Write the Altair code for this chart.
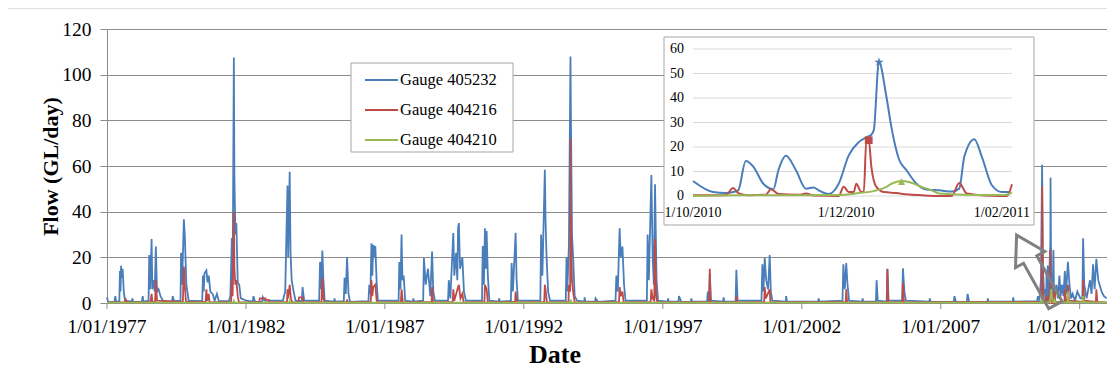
import altair as alt
import pandas as pd

FONT = "Liberation Serif"
GAUGES = ["Gauge 405232", "Gauge 404216", "Gauge 404210"]
COLORS = ["#4a7ebb", "#be4b48", "#98b954"]

# ---------------- inset (Oct 2010 - Feb 2011) ----------------
inset_blue = [("2010-10-01", 6.1), ("2010-10-09", 1.6), ("2010-10-14", 1.2), ("2010-10-17", 1.6),
              ("2010-10-19", 2.3), ("2010-10-22", 14.3), ("2010-10-25", 12), ("2010-10-29", 5),
              ("2010-11-02", 2.8), ("2010-11-04", 10.5), ("2010-11-07", 16.4), ("2010-11-11", 10.5),
              ("2010-11-15", 3), ("2010-11-18", 3.5), ("2010-11-20", 2.3), ("2010-11-24", 0.8),
              ("2010-11-28", 5), ("2010-12-02", 16.6), ("2010-12-06", 22), ("2010-12-10", 24.4),
              ("2010-12-11", 25), ("2010-12-12", 27), ("2010-12-14", 54.8), ("2010-12-17", 40.5),
              ("2010-12-19", 28), ("2010-12-22", 15), ("2010-12-25", 10.5), ("2010-12-29", 5),
              ("2011-01-02", 2.6), ("2011-01-07", 2.3), ("2011-01-12", 1.8), ("2011-01-15", 3),
              ("2011-01-17", 16), ("2011-01-21", 23.2), ("2011-01-24", 16), ("2011-01-28", 4.4),
              ("2011-02-01", 1.6), ("2011-02-04", 1.6)]
inset_red = [("2010-10-01", 0.3), ("2010-10-14", 0.3), ("2010-10-17", 3.3), ("2010-10-19", 1.2),
             ("2010-10-23", 0.3), ("2010-10-30", 0.5), ("2010-11-01", 2.8), ("2010-11-04", 0.8),
             ("2010-11-12", 0.5), ("2010-11-15", 1), ("2010-11-18", 0.2), ("2010-11-28", 0),
             ("2010-11-30", 3.8), ("2010-12-02", 1.6), ("2010-12-04", 1.6), ("2010-12-05", 5),
             ("2010-12-07", 1.6), ("2010-12-08", 1.6), ("2010-12-09", 22.8), ("2010-12-10", 22.8),
             ("2010-12-11", 12), ("2010-12-13", 3.7), ("2010-12-16", 1.6), ("2010-12-21", 1.2),
             ("2010-12-25", 0.7), ("2010-12-31", 0.3), ("2011-01-07", 0), ("2011-01-12", 0),
             ("2011-01-15", 5.3), ("2011-01-18", 1), ("2011-01-28", 0.1), ("2011-02-03", 0),
             ("2011-02-05", 4.8)]
inset_green = [("2010-10-01", 0), ("2010-10-19", 0.3), ("2010-11-02", 0.3), ("2010-11-15", 0.3),
               ("2010-11-28", 0.4), ("2010-12-06", 1.2), ("2010-12-12", 2), ("2010-12-17", 3.7),
               ("2010-12-19", 5), ("2010-12-23", 6.1), ("2010-12-26", 5.7), ("2010-12-31", 3.7),
               ("2011-01-04", 2.3), ("2011-01-07", 1), ("2011-01-20", 0.4), ("2011-02-02", 0.4),
               ("2011-02-05", 1.4)]
inset_peaks = [("2010-12-14", 54.8, "★", 12), ("2010-12-10", 22.8, "■", 10), ("2010-12-23", 6.1, "▲", 9)]
inset_yticks = [0, 10, 20, 30, 40, 50, 60]
inset_xticks = ["2010-10-01", "2010-12-01", "2011-02-01"]
inset_xlabels = ["1/10/2010", "1/12/2010", "1/02/2011"]

# ---------------- main axis ticks ----------------
main_xticks = ["1977-01-01", "1982-01-01", "1987-01-01", "1992-01-01", "1997-01-01", "2002-01-01",
               "2007-01-01", "2012-01-01"]
main_xlabels = ["1/01/1977", "1/01/1982", "1/01/1987", "1/01/1992", "1/01/1997", "1/01/2002",
                "1/01/2007", "1/01/2012"]
main_yticks = [0, 20, 40, 60, 80, 100, 120]

# ---------------- main daily-flow series ----------------
blue_a = [("1977-01-01", 2.5), ("1977-01-15", 0.5), ("1977-04-10", 0.6), ("1977-04-20", 3), ("1977-05-01", 0.5),
          ("1977-06-12", 0.8), ("1977-06-20", 14), ("1977-06-28", 5), ("1977-07-05", 16.3), ("1977-07-15", 11),
          ("1977-07-25", 15), ("1977-08-10", 5), ("1977-08-25", 1), ("1977-11-20", 0.6), ("1977-12-01", 2),
          ("1977-12-10", 0.5), ("1978-04-05", 0.6), ("1978-04-15", 3), ("1978-04-25", 0.6),
          ("1978-07-01", 1), ("1978-07-10", 21), ("1978-07-22", 6), ("1978-08-10", 28), ("1978-08-20", 6),
          ("1978-09-10", 10), ("1978-09-20", 5), ("1978-10-05", 24.7), ("1978-10-20", 5), ("1978-11-10", 6),
          ("1978-12-05", 3), ("1979-01-10", 0.8), ("1979-05-05", 0.6), ("1979-05-15", 3), ("1979-06-01", 0.8),
          ("1979-08-25", 1), ("1979-09-01", 22), ("1979-09-15", 8), ("1979-10-08", 36.7), ("1979-10-20", 30),
          ("1979-11-10", 8), ("1979-12-10", 1), ("1980-06-05", 0.8), ("1980-06-15", 12), ("1980-06-25", 5),
          ("1980-07-05", 13), ("1980-07-30", 14.3), ("1980-08-15", 9), ("1980-08-30", 12), ("1980-09-20", 5),
          ("1980-10-20", 4), ("1980-11-15", 1), ("1980-12-15", 4), ("1981-01-10", 0.8),
          ("1981-05-20", 0.8), ("1981-06-10", 3), ("1981-06-30", 28.5), ("1981-07-10", 8), ("1981-07-26", 107.5),
          ("1981-08-02", 56.5), ("1981-08-15", 30), ("1981-08-28", 35), ("1981-09-15", 9), ("1981-10-05", 8),
          ("1981-10-25", 2), ("1982-01-10", 1), ("1982-04-01", 0.6), ("1982-04-10", 3), ("1982-05-01", 0.5),
          ("1982-08-01", 0.6), ("1982-08-10", 2.5), ("1982-09-01", 1), ("1983-05-01", 1), ("1983-06-01", 5),
          ("1983-07-01", 51.5), ("1983-07-10", 20), ("1983-07-30", 57.5), ("1983-08-10", 22), ("1983-08-25", 10),
          ("1983-09-20", 5), ("1983-10-15", 1), ("1984-01-05", 0.8), ("1984-01-15", 7), ("1984-02-05", 1),
          ("1984-08-20", 1), ("1984-09-01", 18), ("1984-09-15", 6), ("1984-10-01", 23), ("1984-10-15", 10),
          ("1984-11-01", 1), ("1985-07-10", 0.8), ("1985-07-20", 11), ("1985-08-05", 4), ("1985-08-22", 20),
          ("1985-09-10", 4), ("1985-10-01", 0.5), ("1986-05-30", 0.8), ("1986-06-10", 8), ("1986-06-25", 4),
          ("1986-07-08", 26.2), ("1986-07-20", 12), ("1986-08-01", 25.5), ("1986-08-15", 20), ("1986-08-28", 25),
          ("1986-09-15", 9), ("1986-10-01", 1), ("1987-06-30", 1), ("1987-07-10", 18), ("1987-07-25", 6),
          ("1987-08-08", 30), ("1987-08-20", 10), ("1987-09-05", 12), ("1987-09-25", 1), ("1988-05-18", 1),
          ("1988-05-28", 19.7), ("1988-06-20", 8), ("1988-07-20", 15), ("1988-08-20", 3), ("1988-09-12", 22.5),
          ("1988-09-28", 5), ("1988-10-20", 1), ("1989-04-10", 1), ("1989-04-20", 10), ("1989-05-10", 2),
          ("1989-06-18", 30.6), ("1989-07-01", 12), ("1989-07-25", 22), ("1989-08-10", 10), ("1989-08-20", 33),
          ("1989-08-30", 35), ("1989-09-15", 15), ("1989-10-15", 20), ("1989-11-05", 5), ("1989-12-01", 1),
          ("1990-06-30", 1), ("1990-07-10", 25), ("1990-07-25", 8), ("1990-08-08", 32.7), ("1990-08-20", 15),
          ("1990-08-30", 31.5), ("1990-09-15", 12), ("1990-10-05", 1), ("1991-07-15", 1), ("1991-07-25", 17.5),
          ("1991-08-10", 5), ("1991-09-15", 30.8), ("1991-09-28", 10), ("1991-10-15", 1), ("1992-08-05", 1),
          ("1992-08-15", 30), ("1992-09-01", 12), ("1992-10-03", 58.3), ("1992-10-12", 37), ("1992-10-25", 21),
          ("1992-11-15", 5), ("1992-12-10", 1), ("1993-07-05", 1), ("1993-07-15", 20), ("1993-07-25", 5),
          ("1993-08-15", 25), ("1993-09-05", 108), ("1993-09-10", 84), ("1993-09-25", 30), ("1993-10-10", 20),
          ("1993-10-30", 3), ("1993-12-01", 1), ("1994-07-25", 0.6), ("1994-08-01", 2), ("1994-09-01", 0.5),
          ("1995-04-20", 1), ("1995-05-01", 12), ("1995-05-20", 5), ("1995-06-13", 32.7), ("1995-06-28", 20),
          ("1995-07-20", 24.7), ("1995-08-10", 8), ("1995-08-30", 1), ("1996-06-05", 1), ("1996-06-15", 30),
          ("1996-07-01", 10), ("1996-08-03", 56), ("1996-08-20", 20), ("1996-09-05", 8), ("1996-09-20", 52),
          ("1996-10-10", 10), ("1996-10-30", 1), ("1997-07-25", 0.6), ("1997-08-01", 3), ("1997-09-01", 0.5),
          ("1998-08-05", 0.6), ("1998-08-15", 5), ("1998-09-01", 1), ("1998-09-10", 13), ("1998-09-25", 1),
          ("1999-08-15", 0.6), ("1999-08-25", 14.5), ("1999-09-10", 1), ("2000-07-20", 1), ("2000-08-01", 17),
          ("2000-08-15", 5), ("2000-09-01", 19.7), ("2000-09-20", 10), ("2000-10-15", 6), ("2000-11-05", 21),
          ("2000-11-20", 5), ("2000-12-10", 1), ("2003-06-20", 1), ("2003-07-01", 17), ("2003-07-20", 6),
          ("2003-08-08", 17.5), ("2003-08-25", 8), ("2003-09-15", 1), ("2004-09-01", 0.6), ("2004-09-10", 10),
          ("2004-09-25", 1), ("2005-01-20", 0.6), ("2005-01-30", 15), ("2005-02-15", 1), ("2005-08-12", 1),
          ("2005-08-22", 15.2), ("2005-09-10", 5), ("2005-10-01", 1), ("2007-06-20", 0.5), ("2007-07-01", 3),
          ("2007-07-20", 0.5), ("2007-12-10", 0.5), ("2007-12-20", 4), ("2008-01-10", 0.5), ("2010-06-20", 0.8),
          ("2010-07-01", 3), ("2010-07-20", 1), ("2010-08-10", 10), ("2010-08-25", 60.5), ("2010-09-05", 15),
          ("2010-09-20", 4)]
blue_small = [("1985-03-05", 0.6), ("1985-03-10", 2), ("1985-03-20", 0.6), ("1988-01-05", 0.6),
              ("1988-01-10", 2), ("1988-01-20", 0.6), ("1991-02-05", 0.6), ("1991-02-10", 2),
              ("1991-02-20", 0.6), ("1994-03-05", 0.6), ("1994-03-10", 2.5), ("1994-03-20", 0.6),
              ("1997-03-05", 0.6), ("1997-03-10", 2), ("1997-03-20", 0.6), ("1998-01-05", 0.6),
              ("1998-01-10", 2), ("1998-01-20", 0.6), ("1999-03-05", 0.6), ("1999-03-10", 2.5),
              ("1999-03-20", 0.6), ("2001-06-05", 0.6), ("2001-06-10", 3), ("2001-06-20", 0.6),
              ("2002-08-05", 0.6), ("2002-08-10", 2), ("2002-08-20", 0.6), ("2004-03-05", 0.6),
              ("2004-03-10", 2), ("2004-03-20", 0.6), ("2006-08-05", 0.6), ("2006-08-10", 2),
              ("2006-08-20", 0.6), ("2008-09-05", 0.6), ("2008-09-10", 2), ("2008-09-20", 0.6),
              ("2009-08-05", 0.6), ("2009-08-10", 2.5), ("2009-08-20", 0.6)]
blue_b = [("2011-03-01", 8), ("2011-03-20", 2), ("2011-04-10", 12), ("2011-04-25", 3), ("2011-05-15", 8),
          ("2011-06-01", 3), ("2011-06-20", 14), ("2011-07-05", 4), ("2011-07-30", 18), ("2011-08-20", 8),
          ("2011-09-10", 2), ("2011-10-01", 4), ("2011-11-01", 1), ("2011-12-01", 5), ("2012-01-10", 2),
          ("2012-02-05", 2), ("2012-02-15", 28.3), ("2012-03-01", 8), ("2012-04-01", 2), ("2012-05-15", 10),
          ("2012-06-05", 4), ("2012-06-25", 17), ("2012-07-15", 6), ("2012-08-07", 19.3), ("2012-09-01", 10),
          ("2012-10-15", 5), ("2012-11-15", 3), ("2012-12-20", 2)]

red_a = [("1977-01-01", 0.3), ("1977-08-20", 0.3), ("1977-09-05", 1.5), ("1977-09-20", 0.3),
         ("1978-07-25", 0.3), ("1978-08-10", 4), ("1978-08-20", 0.5), ("1978-09-25", 0.5), ("1978-10-05", 10),
         ("1978-10-20", 1), ("1979-09-25", 0.5), ("1979-10-08", 16), ("1979-10-20", 8), ("1979-11-05", 0.5),
         ("1980-07-20", 0.5), ("1980-07-30", 6), ("1980-08-10", 1), ("1980-08-30", 4), ("1980-09-10", 0.3),
         ("1981-06-20", 0.5), ("1981-06-30", 10), ("1981-07-10", 3), ("1981-07-26", 40), ("1981-08-02", 15),
         ("1981-08-15", 8), ("1981-08-28", 10), ("1981-09-15", 3), ("1981-10-01", 0.3), ("1982-06-25", 0.3),
         ("1982-07-01", 2), ("1982-09-15", 2), ("1982-09-20", 1.3), ("1982-11-01", 1.3), ("1982-11-05", 0.3),
         ("1983-06-25", 0.5), ("1983-07-01", 6), ("1983-07-10", 2), ("1983-07-30", 8), ("1983-08-15", 2),
         ("1983-09-01", 0.3), ("1983-11-20", 0.3), ("1983-12-01", 2.5), ("1984-01-15", 2.5), ("1984-01-25", 0.3),
         ("1984-09-20", 0.5), ("1984-10-01", 11), ("1984-10-15", 2), ("1984-10-30", 0.3), ("1985-08-15", 0.3),
         ("1985-08-22", 1.5), ("1985-09-01", 0.3), ("1986-06-30", 0.5), ("1986-07-08", 10), ("1986-07-20", 3),
         ("1986-08-01", 7), ("1986-08-28", 8), ("1986-09-15", 1), ("1986-10-01", 0.3), ("1987-07-30", 0.5),
         ("1987-08-08", 6), ("1987-08-25", 0.3), ("1988-09-05", 0.5), ("1988-09-12", 7), ("1988-09-25", 0.3),
         ("1989-06-10", 0.5), ("1989-06-18", 6), ("1989-07-01", 1), ("1989-08-20", 7), ("1989-08-30", 8),
         ("1989-09-20", 2), ("1989-10-15", 4), ("1989-11-01", 0.3), ("1990-08-01", 0.5), ("1990-08-08", 8),
         ("1990-08-30", 6), ("1990-09-15", 0.3), ("1991-09-08", 0.5), ("1991-09-15", 5), ("1991-09-30", 0.3),
         ("1992-09-25", 0.5), ("1992-10-03", 8), ("1992-10-12", 6), ("1992-10-30", 0.3), ("1993-08-10", 0.5),
         ("1993-08-15", 8), ("1993-09-01", 5), ("1993-09-05", 72), ("1993-09-08", 40), ("1993-09-25", 10),
         ("1993-10-10", 5), ("1993-10-30", 0.3), ("1995-06-05", 0.5), ("1995-06-13", 7), ("1995-06-28", 3),
         ("1995-07-20", 5), ("1995-08-05", 0.3), ("1996-07-25", 0.5), ("1996-08-03", 6), ("1996-08-20", 2),
         ("1996-09-10", 1), ("1996-09-20", 28), ("1996-10-05", 3), ("1996-10-20", 0.3), ("1998-09-01", 0.5),
         ("1998-09-10", 15), ("1998-09-20", 0.3), ("1999-08-20", 0.3), ("1999-08-25", 3), ("1999-09-05", 0.3),
         ("2000-08-25", 0.5), ("2000-09-01", 7), ("2000-09-15", 2), ("2000-11-05", 6), ("2000-11-15", 0.3),
         ("2003-08-01", 0.5), ("2003-08-08", 6), ("2003-08-20", 0.3), ("2005-01-25", 0.3), ("2005-01-30", 14.9),
         ("2005-02-10", 0.3), ("2005-08-15", 0.5), ("2005-08-22", 8.8), ("2005-09-05", 0.3), ("2010-08-20", 0.5),
         ("2010-08-25", 51), ("2010-09-05", 5), ("2010-09-20", 0.5)]
red_b = [("2011-02-15", 0.5), ("2011-06-15", 0.5), ("2011-06-20", 6), ("2011-07-01", 1), ("2011-07-25", 0.5),
         ("2011-07-30", 8), ("2011-08-15", 1), ("2012-02-10", 0.5), ("2012-02-15", 10), ("2012-03-01", 1),
         ("2012-08-01", 0.5), ("2012-08-07", 6), ("2012-08-20", 0.5), ("2012-12-20", 0.3)]

green_a = [("1977-01-01", 0.2), ("1981-07-20", 0.2), ("1981-07-26", 1), ("1981-08-10", 0.2),
           ("1983-07-25", 0.2), ("1983-07-30", 1), ("1983-08-10", 0.2), ("1993-09-01", 0.2),
           ("1993-09-05", 1.5), ("1993-09-20", 0.2), ("2010-08-20", 0.2), ("2010-08-25", 3), ("2010-09-10", 0.2)]
green_b = [("2011-02-20", 0.3), ("2011-07-25", 0.3), ("2011-07-30", 5), ("2011-08-10", 0.3),
           ("2012-02-10", 0.3), ("2012-02-15", 3), ("2012-02-25", 0.3), ("2012-12-20", 0.3)]

main_series = [blue_a + blue_small + inset_blue + blue_b, red_a + inset_red + red_b,
               green_a + inset_green + green_b]

one = pd.DataFrame({"k": [0]})
GRID = "#8c8c8c"


def dt(y, m, d):
    return alt.DateTime(year=y, month=m, date=d, utc=True)


main_x_scale = alt.Scale(type="utc", domain=[dt(1977, 1, 1), dt(2012, 12, 25)], range=[0, 1000], nice=False)
main_y_scale = alt.Scale(domain=[0, 120], nice=False, range=[274, 0])

y_axis = alt.Axis(orient="left", values=main_yticks, grid=True, gridColor=GRID, gridWidth=1,
                  domainColor=GRID, tickColor=GRID, tickSize=7, labelPadding=9,
                  labelFont=FONT, labelFontSize=19.5, labelColor="black",
                  title="Flow (GL/day)", titleFont=FONT, titleFontSize=22, titleFontWeight="bold",
                  titleColor="black", titleX=-57, titleY=137, titleAngle=270,
                  titleAlign="center", titleBaseline="middle")

layers = []
layers.append(alt.Chart(one).mark_rect(fill="transparent", stroke="#bfbfbf", strokeWidth=1).encode(
    x=alt.value(-100), x2=alt.value(1015), y=alt.value(-21), y2=alt.value(365)))

for i, (pts, col) in enumerate(zip(main_series, COLORS)):
    df = pd.DataFrame(pts, columns=["date", "flow"])
    layers.append(alt.Chart(df).mark_line(strokeWidth=1.8, color=col).encode(
        x=alt.X("date:T", scale=main_x_scale, axis=None),
        y=alt.Y("flow:Q", scale=main_y_scale, axis=y_axis if i == 0 else None)))

# x axis drawn from the tick lists
xt_df = pd.DataFrame({"d": main_xticks, "lab": main_xlabels})
layers.append(alt.Chart(xt_df).mark_rule(color=GRID, strokeWidth=1).encode(
    x=alt.X("d:T", scale=main_x_scale, axis=None), y=alt.value(274), y2=alt.value(280)))
layers.append(alt.Chart(xt_df.iloc[:-1]).mark_text(font=FONT, fontSize=19.5, align="center",
                                                   baseline="middle", color="black").encode(
    x=alt.X("d:T", scale=main_x_scale, axis=None), y=alt.value(298), text="lab:N"))
# last label kept whole at the right edge of the page
layers.append(alt.Chart(xt_df.iloc[-1:]).mark_text(font=FONT, fontSize=19.5, align="right", dx=26,
                                                   baseline="middle", color="black").encode(
    x=alt.X("d:T", scale=main_x_scale, axis=None), y=alt.value(298), text="lab:N"))
layers.append(alt.Chart(one).mark_text(font=FONT, fontSize=26, fontWeight="bold", align="center",
                                       baseline="middle", color="black", text="Date").encode(
    x=alt.value(448), y=alt.value(326)))

# legend (box + entries)
layers.append(alt.Chart(one).mark_rect(fill="white", stroke="#a6a6a6", strokeWidth=1).encode(
    x=alt.value(244), x2=alt.value(406), y=alt.value(34), y2=alt.value(123)))
leg_df = pd.DataFrame({"gauge": GAUGES, "col": COLORS, "row": [0, 1, 2]})
leg_y = alt.Scale(domain=[0, 2], range=[51, 111])
layers.append(alt.Chart(leg_df).mark_rule(strokeWidth=1.8).encode(
    y=alt.Y("row:Q", scale=leg_y, axis=None), x=alt.value(258), x2=alt.value(291),
    color=alt.Color("col:N", scale=None)))
layers.append(alt.Chart(leg_df).mark_text(font=FONT, fontSize=16.5, align="left", baseline="middle",
                                          color="black").encode(
    y=alt.Y("row:Q", scale=leg_y, axis=None), x=alt.value(293), text="gauge:N"))

layers.append(alt.Chart(one).mark_point(
    shape="M0,-1 L0.42,-0.3 L0.19,-0.3 L0.19,1 L-0.19,1 L-0.19,-0.3 L-0.42,-0.3 Z",
    filled=False, stroke="#808080", strokeWidth=3, size=6400, angle=331, opacity=1,
).encode(x=alt.value(929), y=alt.value(241)))

# ---------------- inset ----------------
x_in_scale = alt.Scale(type="utc", domain=[dt(2010, 10, 1), dt(2011, 2, 5)], range=[586, 905], nice=False)
y_in_scale = alt.Scale(domain=[0, 60], range=[167, 20], nice=False, zero=False)

layers.append(alt.Chart(one).mark_rect(fill="white", stroke="#a6a6a6", strokeWidth=1).encode(
    x=alt.value(557), x2=alt.value(927), y=alt.value(8), y2=alt.value(196)))

ytick_df = pd.DataFrame({"v": inset_yticks})
layers.append(alt.Chart(ytick_df).mark_rule(color="#d9d9d9", strokeWidth=1).encode(
    y=alt.Y("v:Q", scale=y_in_scale, axis=None), x=alt.value(586), x2=alt.value(905)))
layers.append(alt.Chart(ytick_df).mark_text(font=FONT, fontSize=14, align="right", baseline="middle",
                                            color="black").encode(
    y=alt.Y("v:Q", scale=y_in_scale, axis=None), x=alt.value(577), text="v:Q"))
xlab_df = pd.DataFrame({"d": inset_xticks, "lab": inset_xlabels})
layers.append(alt.Chart(xlab_df).mark_text(font=FONT, fontSize=14, align="center", baseline="middle",
                                           color="black").encode(
    x=alt.X("d:T", scale=x_in_scale, axis=None), y=alt.value(184), text="lab:N"))

for pts, col in zip([inset_blue, inset_red, inset_green], COLORS):
    df = pd.DataFrame(pts, columns=["date", "flow"])
    layers.append(alt.Chart(df).mark_line(color=col, strokeWidth=2, interpolate="monotone").encode(
        x=alt.X("date:T", scale=x_in_scale, axis=None),
        y=alt.Y("flow:Q", scale=y_in_scale, axis=None)))

for (d, v, glyph, fs), col in zip(inset_peaks, COLORS):
    df = pd.DataFrame({"date": [d], "flow": [v], "g": [glyph]})
    layers.append(alt.Chart(df).mark_text(font="DejaVu Sans", fontSize=fs, align="center",
                                          baseline="middle", color=col).encode(
        x=alt.X("date:T", scale=x_in_scale, axis=None),
        y=alt.Y("flow:Q", scale=y_in_scale, axis=None), text="g:N"))

chart = alt.layer(*layers).resolve_scale(
    x="independent", y="independent"
).properties(
    width=1000, height=274,
    autosize=alt.AutoSizeParams(type="none"),
    padding={"left": 99, "top": 21, "right": 0, "bottom": 70},
    background="white",
).configure_view(stroke=None)

chart.save("out.html", embed_options={"renderer": "svg", "actions": False})
